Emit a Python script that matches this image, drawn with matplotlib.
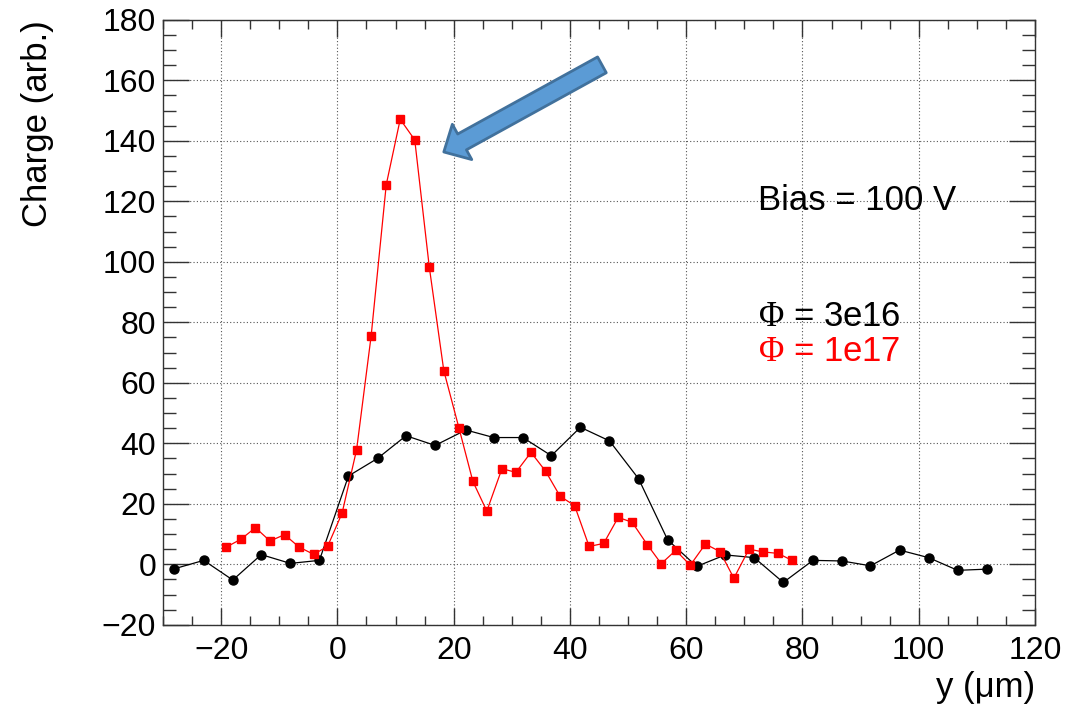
import matplotlib
matplotlib.use("Agg")
import matplotlib.pyplot as plt
from matplotlib.patches import FancyArrowPatch, ArrowStyle
from matplotlib.ticker import MultipleLocator

plt.rcParams['font.family'] = ['Liberation Sans', 'DejaVu Sans']
plt.rcParams['mathtext.fontset'] = 'custom'
plt.rcParams['mathtext.rm'] = 'Liberation Serif'
plt.rcParams['mathtext.it'] = 'Liberation Serif:italic'

# fluence 3e16 (black)
y_3e16 = [-28.1, -23.0, -18.0, -13.1, -8.1, -3.1, 1.9, 6.9, 11.8, 16.8, 22.1, 26.9,
          31.9, 36.8, 41.8, 46.8, 51.8, 56.8, 61.8, 66.7, 71.7, 76.7, 81.8, 86.8,
          91.7, 96.7, 101.7, 106.7, 111.7]
q_3e16 = [-1.5, 1.3, -5.2, 3.2, 0.3, 1.3, 29.2, 35.0, 42.5, 39.3, 44.4, 41.9,
          41.9, 35.9, 45.3, 40.8, 28.3, 8.1, -0.7, 3.1, 2.2, -6.0, 1.3, 1.1,
          -0.5, 4.7, 2.2, -2.0, -1.6]

# fluence 1e17 (red)
y_1e17 = [-19.1, -16.6, -14.1, -11.6, -9.1, -6.6, -4.1, -1.7, 0.8, 3.3, 5.8, 8.4,
          10.8, 13.3, 15.8, 18.3, 20.9, 23.3, 25.7, 28.3, 30.7, 33.3, 35.8, 38.3,
          40.8, 43.3, 45.8, 48.3, 50.7, 53.3, 55.7, 58.2, 60.7, 63.3, 65.8, 68.2,
          70.8, 73.2, 75.8, 78.2]
q_1e17 = [5.7, 8.3, 12.1, 7.7, 9.8, 5.7, 3.3, 5.9, 16.9, 37.9, 75.5, 125.5,
          147.1, 140.3, 98.3, 64.0, 45.1, 27.4, 17.6, 31.6, 30.4, 37.0, 30.8, 22.5,
          19.4, 5.9, 6.9, 15.5, 13.9, 6.5, 0.2, 4.6, -0.3, 6.7, 4.2, -4.6,
          5.0, 4.1, 3.6, 1.3]

fig = plt.figure(figsize=(10.84, 7.04), dpi=100)
ax = fig.add_axes([0.1504, 0.1125, 0.8044, 0.8594])

ax.plot(y_3e16, q_3e16, color='black', lw=0.9, marker='o', ms=6.5, zorder=3)
ax.plot(y_1e17, q_1e17, color='red', lw=0.9, marker='s', ms=6, zorder=4)

ax.set_xlim(-30, 120)
ax.set_ylim(-20, 180)
ax.xaxis.set_major_locator(MultipleLocator(20))
ax.xaxis.set_minor_locator(MultipleLocator(5))
ax.yaxis.set_major_locator(MultipleLocator(20))
ax.yaxis.set_minor_locator(MultipleLocator(5))

ax.tick_params(which='both', direction='in', top=True, right=True, width=1, color='#333333')
ax.tick_params(axis='x', which='major', length=12, labelsize=23, pad=8)
ax.tick_params(axis='x', which='minor', length=6.5)
ax.tick_params(axis='y', which='major', length=19, labelsize=23, pad=5)
ax.tick_params(axis='y', which='minor', length=9.5)
for s in ax.spines.values():
    s.set_linewidth(1)
    s.set_color('#333333')

ax.grid(True, which='major', color='#555555', linestyle=(0, (1, 2)), lw=0.8)
ax.set_axisbelow(True)

ax.set_xlabel('y (μm)', fontsize=25, loc='right', labelpad=4)
ax.set_ylabel('Charge (arb.)', fontsize=25, loc='top', labelpad=34)

ax.text(72.3, 120.4, 'Bias = 100 V', fontsize=25, va='center', ha='left')
ax.text(72.3, 81.9, r'$\Phi$ = 3e16', fontsize=25, va='center', ha='left', color='black')
ax.text(72.3, 70.3, r'$\Phi$ = 1e17', fontsize=25, va='center', ha='left', color='red')

arrow = FancyArrowPatch((45.5, 165.1), (18.3, 136.3),
                        arrowstyle=ArrowStyle('Simple', head_length=15, head_width=29, tail_width=13),
                        facecolor='#5b9bd5', edgecolor='#41719c', lw=2,
                        shrinkA=0, shrinkB=0, zorder=6, clip_on=False)
ax.add_patch(arrow)

fig.savefig('out.png', dpi=100)
